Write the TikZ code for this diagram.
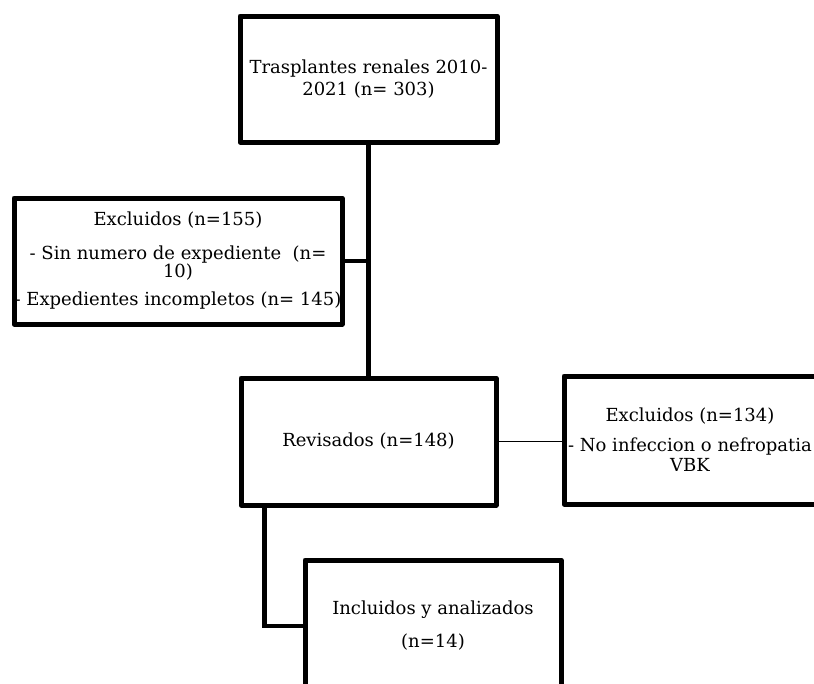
\documentclass[tikz,border=0pt]{standalone}
\usepackage{fontspec}
\setmainfont{DejaVu Serif}
\usetikzlibrary{calc}

\begin{document}
\begin{tikzpicture}[
  x=1pt, y=-1pt,
  font=\fontsize{18}{20}\selectfont,
  box/.style={draw, line width=5pt, line join=round, align=center, inner sep=0pt},
  link/.style={line width=4.5pt},
  thinlink/.style={line width=1.4pt},
]
  \useasboundingbox (0,0) rectangle (814,683);
  \clip (0,0) rectangle (814,683);

  % boxes
  \node[box, minimum width=257, minimum height=126] (tx) at (368.5,79)
    {Trasplantes renales 2010-\\[2pt]2021 (n= 303)};

  \node[box, minimum width=328, minimum height=126] (exca) at (178,261)
    {Excluidos (n=155)\\[14pt]
     - Sin numero de expediente~ (n=\\[-2pt]
     10)\\[8pt]
     - Expedientes incompletos (n= 145)};

  \node[box, minimum width=255, minimum height=127] (rev) at (368.5,441.5)
    {Revisados (n=148)};

  \node[box, minimum width=252, minimum height=128] (excb) at (690,440)
    {Excluidos (n=134)\\[10pt]
     - No infeccion o nefropatia\\
     VBK};

  \node[box, minimum width=256, minimum height=132] (inc) at (433,626)
    {Incluidos y analizados\\[13pt](n=14)};

  % connectors
  \draw[link] (tx.south) -- (rev.north);
  \draw[link] (exca.east) -- (exca.east -| tx.south);
  \draw[thinlink] (rev.east) -- (rev.east -| excb.west);
  \draw[link] ([xshift=26pt]rev.south west) |- (inc.west);
\end{tikzpicture}
\end{document}
